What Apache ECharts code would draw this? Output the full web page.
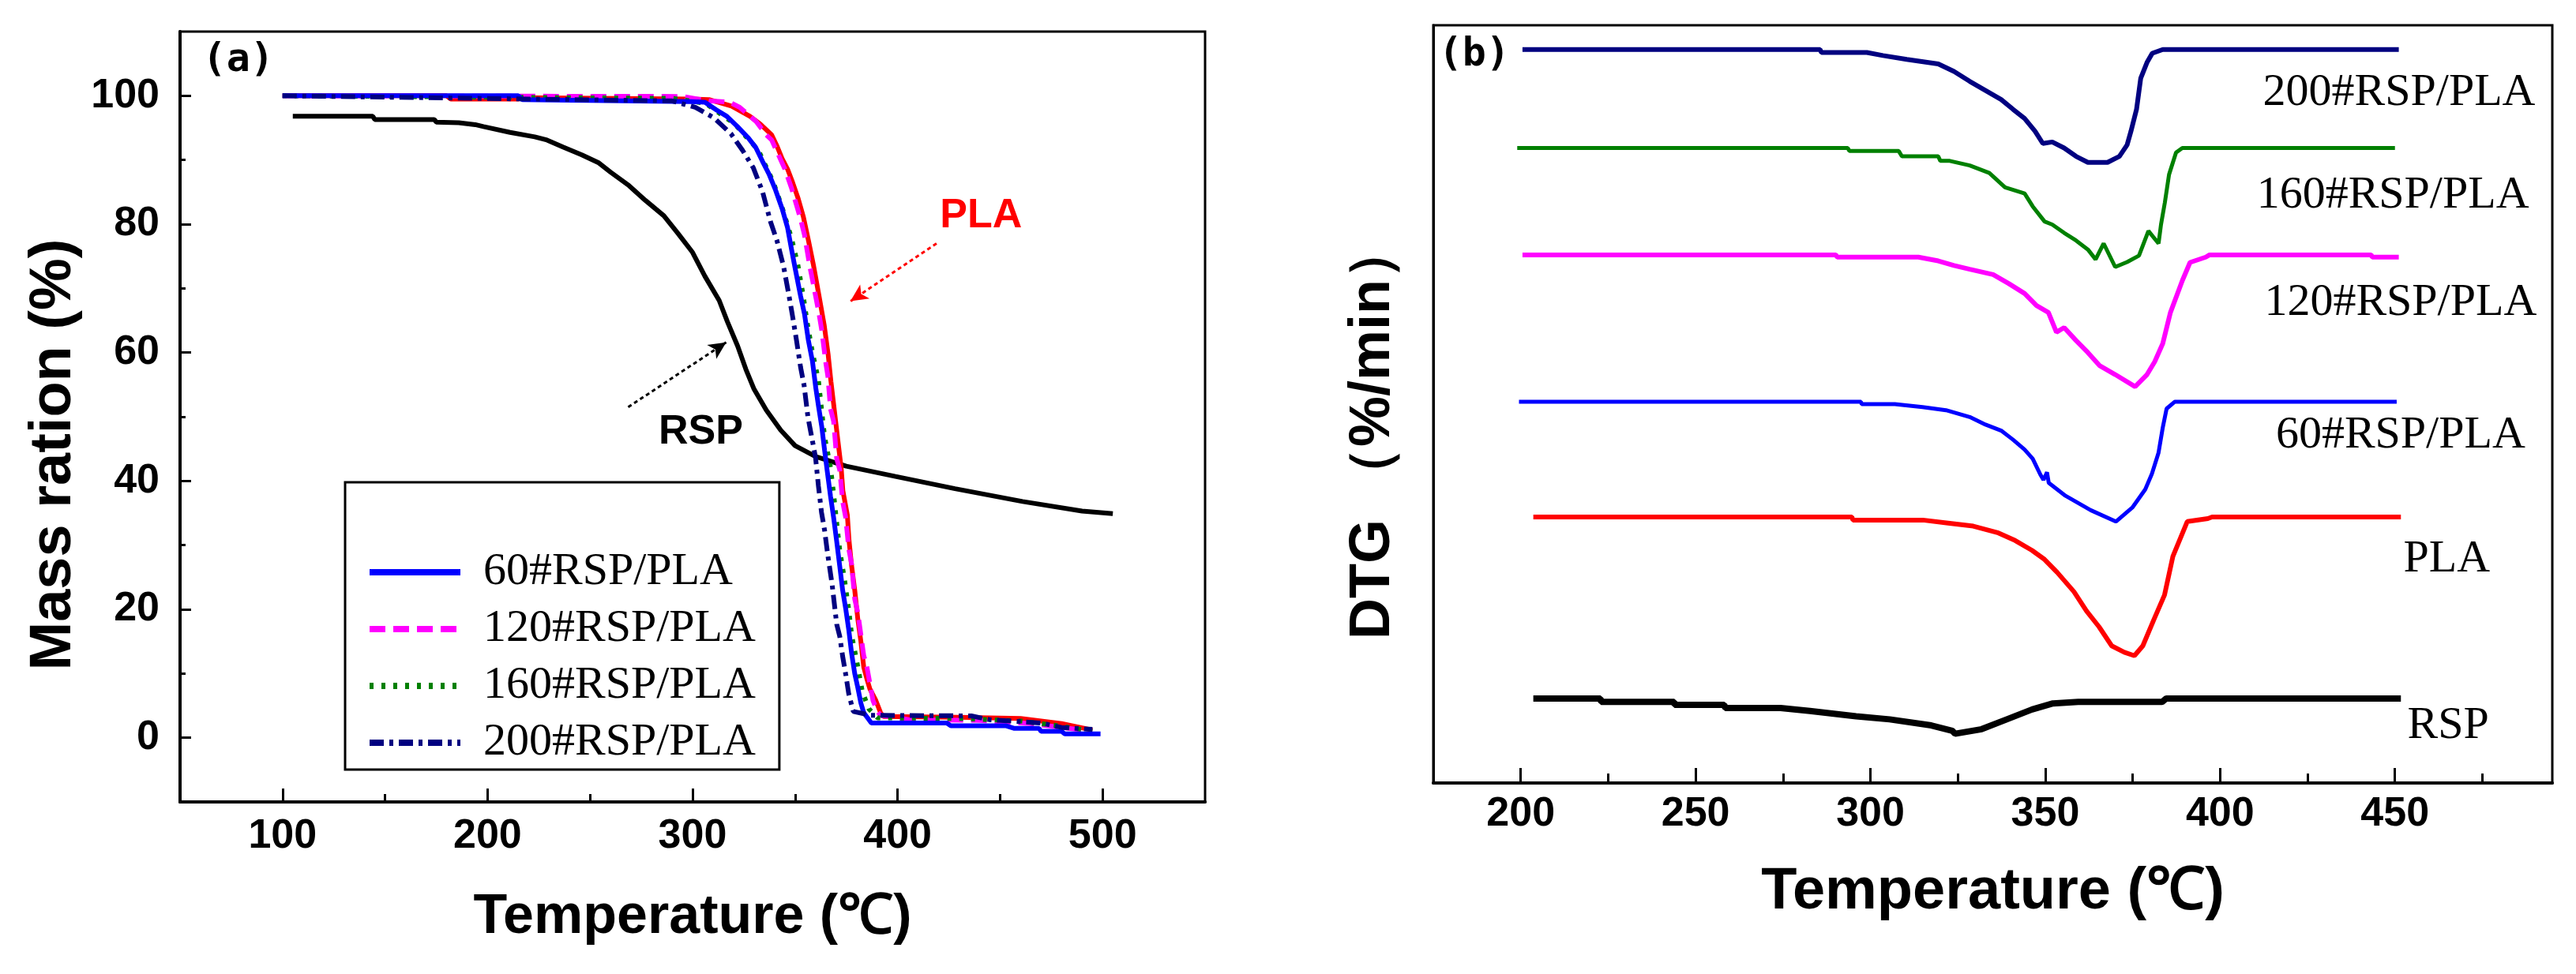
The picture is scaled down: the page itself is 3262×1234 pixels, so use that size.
<!DOCTYPE html>
<html><head><meta charset="utf-8">
<script src="https://cdn.jsdelivr.net/npm/echarts@6/dist/echarts.min.js"></script>
<style>html,body{margin:0;padding:0;background:#fff}#c{width:3262px;height:1234px}</style>
</head><body><div id="c"></div>
<script>
// ---------- Panel (a): TG curves, [temperature °C, mass %] ----------
const tgNames = ['RSP', 'PLA', '120#RSP/PLA', '160#RSP/PLA', '60#RSP/PLA', '200#RSP/PLA'];
const tgRSP = [[105,96.8],[144,96.8],[145,96.3],[174,96.3],[175,95.9],[186,95.8],[194,95.5],[198,95.2],[211,94.3],[223,93.6],[229,93.1],[237,92.0],[246,90.8],[254,89.6],[260,88.1],[269,86.0],[277,83.7],[286,81.3],[293,78.5],[300,75.6],[306,71.9],[313,68.1],[317,64.8],[322,61.0],[326,57.4],[330,54.3],[336,51.0],[343,47.9],[350,45.5],[360,43.8],[375,42.3],[399,40.7],[428,38.8],[461,36.8],[490,35.3],[505,34.9]];
const tgPLA = [[100,100],[180,100],[182,99.5],[215,99.5],[217,99.7],[300,99.5],[308,99.4],[319,98.4],[328,96.8],[333,95.6],[338.6,93.9],[341,92.3],[343.7,90.2],[346.3,88.6],[348.8,86.5],[351.4,84.1],[354,81.2],[356.5,77.5],[359.1,73.4],[361.7,68.8],[364.2,64.3],[366.1,59.8],[367.5,55.5],[368.8,52],[371,46],[372.5,42],[373.3,38.5],[375.5,34.7],[376.3,30.8],[377.5,27],[379.1,23],[380.6,18.5],[382.1,15],[383.5,11],[385,9.2],[386.5,7.6],[389.4,5.8],[391.7,3.9],[393.1,3.3],[430,3.2],[460,3.0],[480,2.2],[495,1.2]];
const tg120 = [[100,100],[295,99.9],[308,99.2],[318,99],[323,98.2],[331,96.0],[336,93.9],[338.6,93.1],[345,88.6],[348.2,85.7],[352.7,80.8],[354.6,78.3],[357.2,73.4],[358.5,71.3],[361.7,66.0],[363,63.5],[364.9,58.6],[366,56.3],[367.3,51.2],[368.8,49.3],[370.3,43.5],[371.8,41.7],[373.2,36.8],[374.7,34.3],[376.2,29.4],[377.6,27],[379.1,21.6],[380.6,19.5],[383.5,12.8],[385,11.1],[388,5.8],[390.2,4.1],[391.7,3.5],[406,2.8],[440,2.7],[465,2.2],[480,1.6],[495,1.0]];
const tg160 = [[100,100],[290,99.6],[295,99.4],[306.5,98.8],[309,98.2],[320.6,95.6],[332.1,91.5],[339.2,86.7],[343.7,82.6],[348.2,77.9],[351.4,73.6],[354,68.8],[355.9,64.7],[358.5,60.0],[361.4,55.7],[362.9,51.2],[364.4,46.9],[367.3,42.1],[368.8,38.0],[370.3,33.5],[371.8,29.2],[374,24.9],[376.2,19.9],[377.6,16.0],[380.6,11.1],[382.8,7.2],[386,4.5],[390.2,3.1],[430,3.0],[460,2.6],[480,1.8],[495,1.0]];
const tg60 = [[100,100],[215,100],[217,99.4],[298.8,99.1],[306,99.0],[311.6,97.8],[316.7,96.8],[321.9,95.2],[327,93.5],[330.9,91.9],[334.1,89.8],[337.3,87.8],[340.5,85.3],[343.7,82.4],[346.3,79.5],[348.2,76.2],[350.1,73.0],[352.7,68.8],[354.6,66.0],[356.5,61.9],[358.5,58.6],[360.1,54.5],[361.5,51.5],[363,48.5],[364.4,44.8],[365.9,41],[367.3,37.6],[368.8,34.3],[370.3,30.6],[371.8,26.7],[373.2,23],[374.7,20.1],[376.2,16.8],[377.6,13.1],[379.1,10],[380.6,7.8],[382.1,5.4],[383.5,3.9],[385.8,2.9],[387.2,2.3],[424,2.3],[426,1.85],[453,1.85],[457,1.45],[469,1.45],[470,1.0],[480,1.0],[481.5,0.6],[499,0.6]];
const tg200 = [[100,100],[290,99.2],[301.3,98.2],[310.3,96.6],[318.7,94.1],[324.4,91.5],[329.6,88.8],[334.1,85.1],[338,80.4],[341.1,77.5],[344.4,73.4],[346.9,69.1],[348.6,66.0],[350.7,61.9],[352.7,57.7],[354.4,54.9],[356.3,49.9],[358.5,46.2],[360,43.6],[361.4,39.2],[362.9,35.1],[364.4,32.3],[365.9,28.6],[368.1,23.8],[370.3,17.7],[371.8,15.8],[373.2,12.7],[374.7,9.9],[376.2,6.8],[378.4,4.1],[387,3.5],[436,3.4],[445,2.8],[470,2.3],[480,1.6],[495,1.3]];
const tgXMajor = [100, 200, 300, 400, 500];
const tgXMinor = [150, 250, 350, 450];
const tgYMajor = [0, 20, 40, 60, 80, 100];
const tgYMinor = [10, 30, 50, 70, 90];
const legendNames = ['60#RSP/PLA', '120#RSP/PLA', '160#RSP/PLA', '200#RSP/PLA'];

// ---------- Panel (b): DTG curves (stacked, arbitrary offset units) ----------
const dtgLabels = ['200#RSP/PLA', '160#RSP/PLA', '120#RSP/PLA', '60#RSP/PLA', 'PLA', 'RSP'];
const dtg200 = [[200.5,96.8],[285.6,96.8],[286,96.4],[299,96.4],[303.6,96.0],[310.4,95.5],[319.4,94.9],[323.9,93.9],[328.4,92.6],[332.9,91.4],[337.4,90.2],[340.8,88.9],[344.1,87.7],[347.1,86.0],[349.3,84.4],[352,84.6],[355.4,83.8],[358.8,82.7],[362.2,81.9],[367.8,81.9],[371.2,82.7],[373.4,84.2],[374.5,86.0],[376.1,88.9],[377.3,93.0],[379.1,95.1],[380.6,96.3],[383.6,96.8],[451.1,96.8]];
const dtg160 = [[199,83.8],[293.5,83.8],[294,83.4],[308.1,83.4],[309,82.7],[319.4,82.7],[320,82.1],[322.7,82.1],[328.4,81.5],[334,80.5],[338.5,78.6],[344.1,77.8],[346.4,76.1],[349.8,74.1],[352,73.7],[355.4,72.6],[358.8,71.6],[362.2,70.4],[364.4,69.1],[366.7,71.2],[370,68.1],[373.4,68.75],[376.8,69.6],[379.5,72.85],[382.4,71.2],[383.1,73.7],[384.2,76.6],[385.4,80.3],[387.4,83.2],[389.2,83.8],[450,83.8]];
const dtg120 = [[200.5,69.7],[290.1,69.7],[290.5,69.4],[313.7,69.4],[319.4,68.9],[323.9,68.3],[328.4,67.8],[335.1,67.1],[339.6,65.9],[344.1,64.6],[347.5,63.0],[350.9,62.1],[353.2,59.5],[355.4,60.1],[358.8,58.4],[362.2,56.8],[365.5,55.1],[370,53.9],[375.7,52.3],[379.1,53.9],[381.3,55.6],[383.6,58.0],[385.8,62.1],[389.2,66.3],[391.4,68.7],[395.9,69.4],[397,69.7],[443.2,69.7],[443.5,69.4],[451.1,69.4]];
const dtg60 = [[199.5,50.3],[297.3,50.3],[297.5,50.0],[307,50.0],[314.9,49.6],[321.6,49.2],[328.4,48.3],[332.9,47.3],[337.4,46.5],[340.8,45.3],[344.1,44.0],[346.4,42.8],[348.6,40.7],[349.5,40.0],[350.5,41.0],[351,39.6],[355.8,37.9],[363,36.0],[370.2,34.5],[375,36.4],[378.6,38.75],[380.5,40.8],[382.4,43.6],[383.6,46.9],[384.7,49.4],[387,50.3],[450.5,50.3]];
const dtgPLA = [[203.6,35.1],[294.7,35.1],[295,34.7],[315,34.7],[322.2,34.3],[329.4,33.9],[336.6,33.0],[341.4,32.0],[346.2,30.7],[349.8,29.5],[353.4,27.8],[358.2,25.25],[361.8,22.7],[365.4,20.6],[369,18.1],[372.6,17.25],[375.5,16.8],[377.9,18.1],[381,21.5],[384.1,24.8],[386.5,29.9],[390.6,34.5],[396.5,34.9],[397.7,35.1],[451.7,35.1]];
const dtgRSP = [[203.6,11.15],[222.8,11.15],[223,10.7],[243.9,10.7],[244,10.3],[258.2,10.3],[258.5,9.9],[274.3,9.9],[282.7,9.5],[295.9,8.8],[305.5,8.4],[317.4,7.6],[323.4,6.9],[324.2,6.5],[331.8,7.1],[339,8.4],[346.2,9.7],[352.2,10.5],[359.4,10.7],[383.4,10.7],[384.6,11.15],[451.7,11.15]];
const dtgXMajor = [200, 250, 300, 350, 400, 450];
const dtgXMinor = [225, 275, 325, 375, 425, 475];

// ---------- annotation anchor points (data coordinates) ----------
const annotA = [
  {text: 'PLA', at: [440.7, 81.3], color: '#ff0000', font: 'bold 52px "Liberation Sans"'},
  {text: 'RSP', at: [304, 47.6], color: '#000', font: 'bold 52px "Liberation Sans"'},
  {text: '(a)', at: [78.4, 105.4], color: '#000', font: 'bold 50px "DejaVu Sans Mono"'}
];
const annotB = [
  {text: '(b)', at: [186.7, 96.0], font: 'bold 50px "DejaVu Sans Mono"'},
  {text: '200#RSP/PLA', at: [451.2, 91.1]},
  {text: '160#RSP/PLA', at: [449.4, 77.5]},
  {text: '120#RSP/PLA', at: [451.6, 63.4]},
  {text: '60#RSP/PLA', at: [451.6, 45.9]},
  {text: 'PLA', at: [464.8, 29.5]},
  {text: 'RSP', at: [465.2, 7.5]}
];
const arrowPLA = [[419, 77], [377, 68]];
const arrowRSP = [[268.6, 51.5], [316.4, 61.6]];

const SANS = 'Liberation Sans';
const SERIF = 'Liberation Serif';
const black = '#000';

function majorAxis(extra) {
  return Object.assign({
    type: 'value',
    splitLine: {show: false},
    axisLine: {show: true, onZero: false, lineStyle: {color: black, width: 4}},
  }, extra);
}
function minorAxis(extra) {
  return Object.assign({
    type: 'value',
    splitLine: {show: false},
    axisLabel: {show: false},
    axisLine: {show: false, onZero: false},
  }, extra);
}

const chart = echarts.init(document.getElementById('c'), null, {renderer: 'canvas'});

const tgStyles = [
  {color: '#000000', type: 'solid', width: 6},
  {color: '#ff0000', type: 'solid', width: 6},
  {color: '#ff00ff', type: [20, 10], width: 6},
  {color: '#008000', type: [5, 10], width: 6},
  {color: '#0000ff', type: 'solid', width: 6},
  {color: '#000080', type: [18, 7, 5, 7], width: 6}
];
const tgData = [tgRSP, tgPLA, tg120, tg160, tg60, tg200];
const dtgData = [dtg200, dtg160, dtg120, dtg60, dtgPLA, dtgRSP];
const dtgColors = ['#000080', '#008000', '#ff00ff', '#0000ff', '#ff0000', '#000000'];
const dtgWidths = [6, 5, 6, 5, 6, 8];

const series = [];
tgData.forEach((d, i) => {
  const s = {
    type: 'line', name: tgNames[i], xAxisIndex: 0, yAxisIndex: 0,
    data: d, symbol: 'none', showSymbol: false,
    lineStyle: tgStyles[i], itemStyle: {color: tgStyles[i].color},
    z: 3 + i
  };
  if (i === 0 || i === 1) {
    const pts = i === 0 ? arrowRSP : arrowPLA;
    s.markLine = {
      silent: true, symbol: ['none', 'arrow'], symbolSize: [16, 22],
      label: {show: false},
      lineStyle: {color: tgStyles[i].color, width: 3, type: [5, 4]},
      data: [[{coord: pts[0]}, {coord: pts[1]}]]
    };
  }
  series.push(s);
});
dtgData.forEach((d, i) => {
  series.push({
    type: 'line', name: 'DTG ' + dtgLabels[i], xAxisIndex: 2, yAxisIndex: 2,
    data: d, symbol: 'none', showSymbol: false,
    lineStyle: {color: dtgColors[i], width: dtgWidths[i]},
    itemStyle: {color: dtgColors[i]}
  });
});

const option = {
  backgroundColor: '#fff',
  animation: false,
  grid: [
    {left: 228, top: 40, width: 1298, height: 976, show: true, borderColor: black, borderWidth: 3, backgroundColor: 'transparent'},
    {left: 1815, top: 32, width: 1417, height: 960, show: true, borderColor: black, borderWidth: 3, backgroundColor: 'transparent'}
  ],
  legend: {
    show: true, orient: 'vertical', left: 437, top: 611,
    data: legendNames, selectedMode: false,
    itemWidth: 115, itemHeight: 14, itemGap: 14,
    padding: [85, 30, 5, 27],
    borderColor: black, borderWidth: 3,
    lineStyle: {width: 8},
    itemStyle: {opacity: 0},
    textStyle: {fontFamily: SERIF, fontSize: 58, lineHeight: 58, color: black, padding: [0, 0, 0, 24]}
  },
  xAxis: [
    majorAxis({gridIndex: 0, min: 50, max: 550, position: 'bottom',
      axisTick: {show: true, inside: true, length: 17, customValues: tgXMajor, lineStyle: {color: black, width: 3}},
      axisLabel: {show: true, customValues: tgXMajor, fontFamily: SANS, fontWeight: 'bold', fontSize: 52, color: black, margin: 18},
      name: 'Temperature (℃)', nameLocation: 'middle', nameGap: 112,
      nameTextStyle: {fontFamily: SANS, fontWeight: 'bold', fontSize: 70, color: black}}),
    minorAxis({gridIndex: 0, min: 50, max: 550, position: 'bottom',
      axisTick: {show: true, inside: true, length: 10, customValues: tgXMinor, lineStyle: {color: black, width: 3}}}),
    majorAxis({gridIndex: 1, min: 175, max: 495, position: 'bottom',
      axisTick: {show: true, inside: true, length: 19, customValues: dtgXMajor, lineStyle: {color: black, width: 3}},
      axisLabel: {show: true, customValues: dtgXMajor, fontFamily: SANS, fontWeight: 'bold', fontSize: 52, color: black, margin: 14},
      name: 'Temperature (℃)', nameLocation: 'middle', nameGap: 102,
      nameTextStyle: {fontFamily: SANS, fontWeight: 'bold', fontSize: 74, color: black}}),
    minorAxis({gridIndex: 1, min: 175, max: 495, position: 'bottom',
      axisTick: {show: true, inside: true, length: 12, customValues: dtgXMinor, lineStyle: {color: black, width: 3}}})
  ],
  yAxis: [
    majorAxis({gridIndex: 0, min: -10, max: 110, position: 'left',
      axisTick: {show: true, inside: true, length: 14, customValues: tgYMajor, lineStyle: {color: black, width: 3}},
      axisLabel: {show: true, customValues: tgYMajor, fontFamily: SANS, fontWeight: 'bold', fontSize: 52, color: black, margin: 26},
      name: 'Mass ration (%)', nameLocation: 'middle', nameGap: 122, nameRotate: 90,
      nameTextStyle: {fontFamily: SANS, fontWeight: 'bold', fontSize: 74, color: black, padding: [0, 96, 0, 0]}}),
    minorAxis({gridIndex: 0, min: -10, max: 110, position: 'left',
      axisTick: {show: true, inside: true, length: 7, customValues: tgYMinor, lineStyle: {color: black, width: 3}}}),
    majorAxis({gridIndex: 1, min: 0, max: 100, position: 'left',
      axisTick: {show: false}, axisLabel: {show: false},
      axisLine: {show: true, onZero: false, lineStyle: {color: black, width: 3}},
      name: 'DTG （%/min）', nameLocation: 'middle', nameGap: 40, nameRotate: 90,
      nameTextStyle: {fontFamily: SANS, fontWeight: 'bold', fontSize: 72, color: black, padding: [0, 68, 0, 0]}})
  ],
  series: series
};
chart.setOption(option);

// text annotations placed through the axes' scales
const graphics = [];
annotA.forEach(a => {
  const p = chart.convertToPixel({xAxisIndex: 0, yAxisIndex: 0}, a.at);
  graphics.push({type: 'text', x: p[0], y: p[1], z: 50,
    style: {text: a.text, fill: a.color, font: a.font, align: 'center', verticalAlign: 'middle'}});
});
annotB.forEach(a => {
  const p = chart.convertToPixel({xAxisIndex: 2, yAxisIndex: 2}, a.at);
  graphics.push({type: 'text', x: p[0], y: p[1], z: 50,
    style: {text: a.text, fill: black, font: a.font || ('58px "' + SERIF + '"'), align: 'center', verticalAlign: 'middle'}});
});
chart.setOption({graphic: graphics});
</script>
</body></html>
